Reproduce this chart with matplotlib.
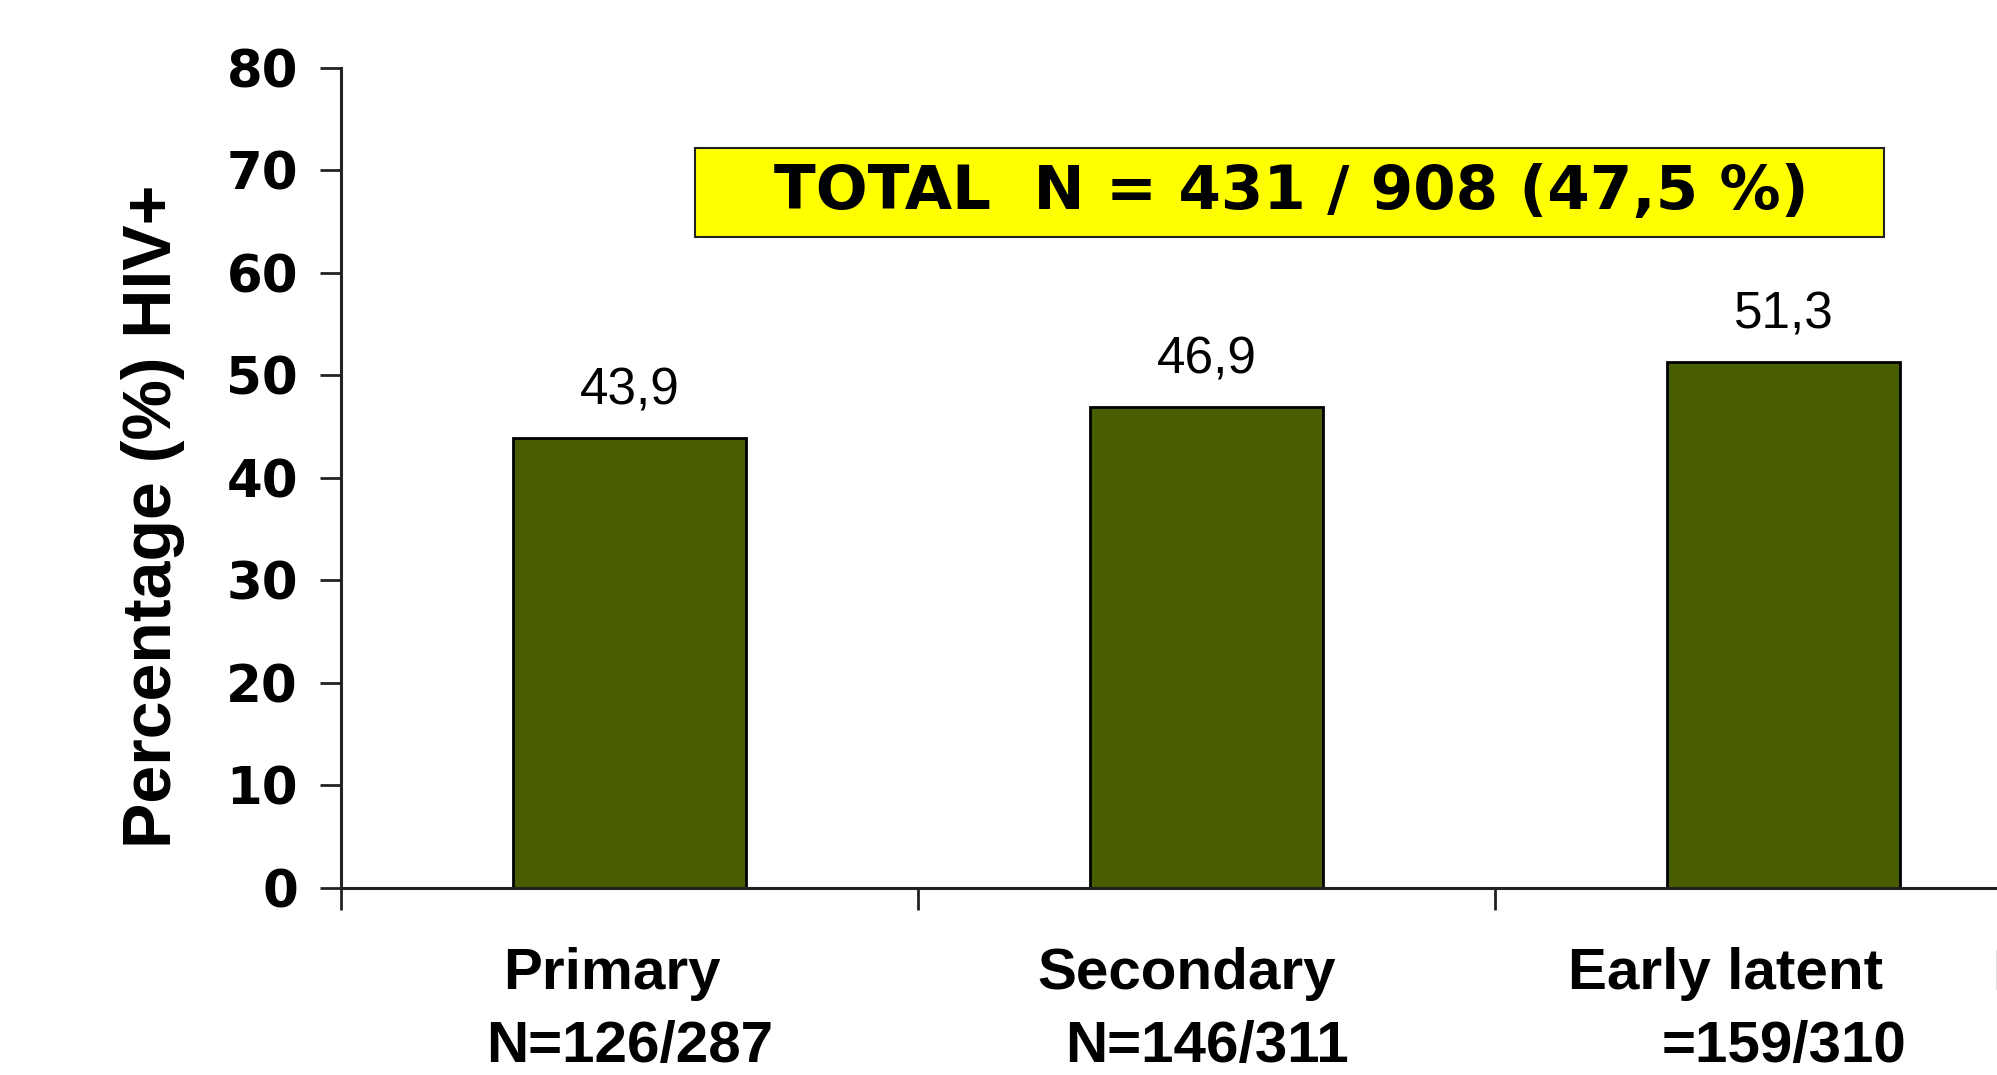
import matplotlib
matplotlib.use('Agg')
import matplotlib.pyplot as plt
from matplotlib import font_manager as fm
from matplotlib.patches import Rectangle
import matplotlib.transforms as mtransforms

categories = ['Primary', 'Secondary', 'Early latent']
counts = ['N=126/287', 'N=146/311', '=159/310']
values = [43.9, 46.9, 51.3]
value_labels = ['43,9', '46,9', '51,3']
total_text = 'TOTAL  N = 431 / 908 (47,5 %)'
yticks = [0, 10, 20, 30, 40, 50, 60, 70, 80]

names = {f.name for f in fm.fontManager.ttflist}
arial = 'Liberation Sans' if 'Liberation Sans' in names else 'DejaVu Sans'

fig = plt.figure(figsize=(19.97, 10.75), dpi=100)
ax = fig.add_axes([0.1708, 0.174, 1 - 0.1708, 0.763])

x = list(range(len(categories)))
ax.bar(x, values, width=0.404, color='#485c00', edgecolor='black', linewidth=2, zorder=2)

for xi, v, lab in zip(x, values, value_labels):
    ax.annotate(lab, (xi, v), xytext=(0, 24), textcoords='offset points',
                ha='center', va='baseline', fontsize=37, family=arial)

ax.set_xlim(-0.5, 2.37)
ax.set_ylim(0, 80)
ax.set_yticks(yticks)
ax.set_yticklabels([str(t) for t in yticks], fontsize=37, fontweight='bold', family='DejaVu Sans')
ax.set_xticks([-0.5, 0.5, 1.5])
ax.set_xticklabels([])
ax.tick_params(axis='y', length=15, width=2, pad=16, color='#222222')
ax.tick_params(axis='x', length=16, width=2, color='#222222')
ax.spines['top'].set_visible(False)
ax.spines['right'].set_visible(False)
for s in ['left', 'bottom']:
    ax.spines[s].set_linewidth(2.2)
    ax.spines[s].set_color('#222222')

# category labels under the axis
trans = mtransforms.blended_transform_factory(ax.transData, fig.transFigure)
first_offset = [-0.03, -0.034, -0.10]
for xi, cat, n, off in zip(x, categories, counts, first_offset):
    ax.text(xi + off, 1 - 974 / 1075, cat, transform=trans, ha='center', va='center',
            fontsize=42, fontweight='bold', family=arial, clip_on=False)
    ax.text(xi, 1 - 1047 / 1075, n, transform=trans, ha='center', va='center',
            fontsize=42, fontweight='bold', family=arial, clip_on=False)
ax.text(2.363, 1 - 974 / 1075, 'Late latent', transform=trans, ha='left', va='center',
        fontsize=42, fontweight='bold', family=arial, clip_on=False)

fig.text(153 / 1997, 1 - 516 / 1075, 'Percentage (%) HIV+', rotation=90,
         ha='center', va='center', fontsize=49, fontweight='bold', family=arial)

# total box
fig.patches.append(Rectangle((695 / 1997, 1 - 237 / 1075), (1884 - 695) / 1997, 89 / 1075,
                             transform=fig.transFigure, facecolor='#ffff00',
                             edgecolor='#222222', linewidth=1.5))
fig.text(1291 / 1997, 1 - 192 / 1075, total_text, ha='center', va='center',
         fontsize=44, fontweight='bold', family='DejaVu Sans')

fig.savefig('out.png', dpi=100)
